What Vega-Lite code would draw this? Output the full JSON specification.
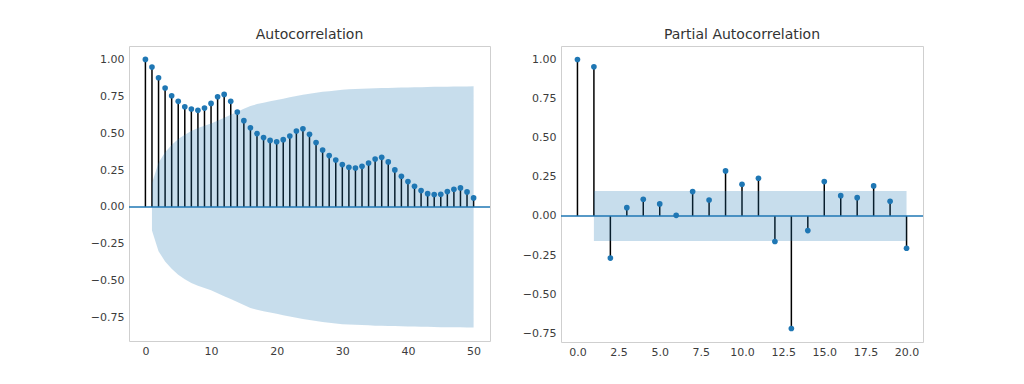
{
  "$schema": "https://vega.github.io/schema/vega-lite/v6.json",
  "background": "white",
  "padding": {"left": 89, "top": 27, "right": 10, "bottom": 5},
  "spacing": 29,
  "config": {
    "font": "DejaVu Sans",
    "view": {"stroke": "#cfcfcf", "strokeWidth": 1},
    "axis": {"grid": false, "domain": false, "ticks": false, "labelFont": "DejaVu Sans", "labelFontSize": 11, "labelColor": "#3c3c3c", "labelPadding": 5, "title": null},
    "title": {"fontSize": 14, "fontWeight": "normal", "font": "DejaVu Sans", "color": "#333333", "offset": 4}
  },
  "datasets": {
    "zero": [{"level": 0}],
    "acf": [
      {"lag": 0, "r": 1.0}, {"lag": 1, "r": 0.948}, {"lag": 2, "r": 0.876}, {"lag": 3, "r": 0.806}, {"lag": 4, "r": 0.754},
      {"lag": 5, "r": 0.716}, {"lag": 6, "r": 0.679}, {"lag": 7, "r": 0.664}, {"lag": 8, "r": 0.655}, {"lag": 9, "r": 0.67},
      {"lag": 10, "r": 0.702}, {"lag": 11, "r": 0.747}, {"lag": 12, "r": 0.763}, {"lag": 13, "r": 0.716}, {"lag": 14, "r": 0.643},
      {"lag": 15, "r": 0.585}, {"lag": 16, "r": 0.537}, {"lag": 17, "r": 0.497}, {"lag": 18, "r": 0.47}, {"lag": 19, "r": 0.451},
      {"lag": 20, "r": 0.442}, {"lag": 21, "r": 0.456}, {"lag": 22, "r": 0.481}, {"lag": 23, "r": 0.515}, {"lag": 24, "r": 0.53},
      {"lag": 25, "r": 0.492}, {"lag": 26, "r": 0.436}, {"lag": 27, "r": 0.386}, {"lag": 28, "r": 0.348}, {"lag": 29, "r": 0.318},
      {"lag": 30, "r": 0.287}, {"lag": 31, "r": 0.269}, {"lag": 32, "r": 0.264}, {"lag": 33, "r": 0.275}, {"lag": 34, "r": 0.298},
      {"lag": 35, "r": 0.325}, {"lag": 36, "r": 0.336}, {"lag": 37, "r": 0.305}, {"lag": 38, "r": 0.251}, {"lag": 39, "r": 0.208},
      {"lag": 40, "r": 0.172}, {"lag": 41, "r": 0.14}, {"lag": 42, "r": 0.111}, {"lag": 43, "r": 0.09}, {"lag": 44, "r": 0.084},
      {"lag": 45, "r": 0.086}, {"lag": 46, "r": 0.104}, {"lag": 47, "r": 0.12}, {"lag": 48, "r": 0.129}, {"lag": 49, "r": 0.102},
      {"lag": 50, "r": 0.061}
    ],
    "acfband": [
      {"lag": 1, "lo": -0.16, "hi": 0.16}, {"lag": 2, "lo": -0.3, "hi": 0.3}, {"lag": 3, "lo": -0.37, "hi": 0.37},
      {"lag": 4, "lo": -0.42, "hi": 0.42}, {"lag": 5, "lo": -0.46, "hi": 0.46}, {"lag": 6, "lo": -0.49, "hi": 0.49},
      {"lag": 7, "lo": -0.515, "hi": 0.515}, {"lag": 8, "lo": -0.535, "hi": 0.535}, {"lag": 9, "lo": -0.55, "hi": 0.55},
      {"lag": 10, "lo": -0.565, "hi": 0.565}, {"lag": 11, "lo": -0.585, "hi": 0.585}, {"lag": 12, "lo": -0.605, "hi": 0.605},
      {"lag": 13, "lo": -0.625, "hi": 0.625}, {"lag": 14, "lo": -0.645, "hi": 0.645}, {"lag": 15, "lo": -0.665, "hi": 0.665},
      {"lag": 16, "lo": -0.685, "hi": 0.685}, {"lag": 17, "lo": -0.697, "hi": 0.697}, {"lag": 18, "lo": -0.707, "hi": 0.707},
      {"lag": 19, "lo": -0.716, "hi": 0.716}, {"lag": 20, "lo": -0.725, "hi": 0.725}, {"lag": 21, "lo": -0.734, "hi": 0.734},
      {"lag": 22, "lo": -0.743, "hi": 0.743}, {"lag": 23, "lo": -0.752, "hi": 0.752}, {"lag": 24, "lo": -0.76, "hi": 0.76},
      {"lag": 25, "lo": -0.767, "hi": 0.767}, {"lag": 26, "lo": -0.774, "hi": 0.774}, {"lag": 27, "lo": -0.78, "hi": 0.78},
      {"lag": 28, "lo": -0.785, "hi": 0.785}, {"lag": 29, "lo": -0.79, "hi": 0.79}, {"lag": 30, "lo": -0.795, "hi": 0.795},
      {"lag": 31, "lo": -0.797, "hi": 0.797}, {"lag": 32, "lo": -0.799, "hi": 0.799}, {"lag": 33, "lo": -0.801, "hi": 0.801},
      {"lag": 34, "lo": -0.803, "hi": 0.803}, {"lag": 35, "lo": -0.805, "hi": 0.805}, {"lag": 36, "lo": -0.806, "hi": 0.806},
      {"lag": 37, "lo": -0.807, "hi": 0.807}, {"lag": 38, "lo": -0.808, "hi": 0.808}, {"lag": 39, "lo": -0.809, "hi": 0.809},
      {"lag": 40, "lo": -0.81, "hi": 0.81}, {"lag": 41, "lo": -0.811, "hi": 0.811}, {"lag": 42, "lo": -0.812, "hi": 0.812},
      {"lag": 43, "lo": -0.813, "hi": 0.813}, {"lag": 44, "lo": -0.814, "hi": 0.814}, {"lag": 45, "lo": -0.815, "hi": 0.815},
      {"lag": 46, "lo": -0.815, "hi": 0.815}, {"lag": 47, "lo": -0.816, "hi": 0.816}, {"lag": 48, "lo": -0.816, "hi": 0.816},
      {"lag": 49, "lo": -0.817, "hi": 0.817}, {"lag": 50, "lo": -0.818, "hi": 0.818}
    ],
    "pacf": [
      {"lag": 0, "r": 1.0}, {"lag": 1, "r": 0.953}, {"lag": 2, "r": -0.269}, {"lag": 3, "r": 0.053}, {"lag": 4, "r": 0.107},
      {"lag": 5, "r": 0.077}, {"lag": 6, "r": 0.004}, {"lag": 7, "r": 0.156}, {"lag": 8, "r": 0.102}, {"lag": 9, "r": 0.288},
      {"lag": 10, "r": 0.203}, {"lag": 11, "r": 0.241}, {"lag": 12, "r": -0.163}, {"lag": 13, "r": -0.719}, {"lag": 14, "r": -0.093},
      {"lag": 15, "r": 0.22}, {"lag": 16, "r": 0.13}, {"lag": 17, "r": 0.117}, {"lag": 18, "r": 0.192}, {"lag": 19, "r": 0.094},
      {"lag": 20, "r": -0.206}
    ],
    "pacfband": [
      {"lag": 1, "lo": -0.16, "hi": 0.16}, {"lag": 20, "lo": -0.16, "hi": 0.16}
    ]
  },
  "hconcat": [
    {
      "title": "Autocorrelation",
      "width": 361,
      "height": 295,
      "layer": [
        {
          "data": {"name": "acf"},
          "mark": {"type": "rule", "color": "black", "strokeWidth": 1.5},
          "encoding": {
            "x": {"field": "lag", "type": "quantitative", "scale": {"domain": [-2.5, 52.5], "nice": false, "zero": false}, "axis": {"values": [0, 10, 20, 30, 40, 50], "format": "d", "labelPadding": 4}},
            "y": {"field": "r", "type": "quantitative", "scale": {"domain": [-0.909, 1.091], "nice": false}, "axis": {"values": [-0.75, -0.5, -0.25, 0, 0.25, 0.5, 0.75, 1], "format": ".2f"}},
            "y2": {"datum": 0}
          }
        },
        {
          "data": {"name": "zero"},
          "mark": {"type": "rule", "color": "#1f77b4", "strokeWidth": 1.5},
          "encoding": {"y": {"field": "level", "type": "quantitative"}}
        },
        {
          "data": {"name": "acf"},
          "mark": {"type": "point", "filled": true, "opacity": 1, "color": "#1f77b4", "size": 32},
          "encoding": {
            "x": {"field": "lag", "type": "quantitative"},
            "y": {"field": "r", "type": "quantitative"}
          }
        },
        {
          "data": {"name": "acfband"},
          "mark": {"type": "area", "color": "#1f77b4", "opacity": 0.25},
          "encoding": {
            "x": {"field": "lag", "type": "quantitative"},
            "y": {"field": "lo", "type": "quantitative"},
            "y2": {"field": "hi"}
          }
        }
      ]
    },
    {
      "title": "Partial Autocorrelation",
      "width": 362,
      "height": 296,
      "layer": [
        {
          "data": {"name": "pacf"},
          "mark": {"type": "rule", "color": "black", "strokeWidth": 1.5},
          "encoding": {
            "x": {"field": "lag", "type": "quantitative", "scale": {"domain": [-1, 21], "nice": false, "zero": false}, "axis": {"values": [0, 2.5, 5, 7.5, 10, 12.5, 15, 17.5, 20], "format": ".1f", "labelPadding": 4}},
            "y": {"field": "r", "type": "quantitative", "scale": {"domain": [-0.805, 1.086], "nice": false}, "axis": {"values": [-0.75, -0.5, -0.25, 0, 0.25, 0.5, 0.75, 1], "format": ".2f"}},
            "y2": {"datum": 0}
          }
        },
        {
          "data": {"name": "zero"},
          "mark": {"type": "rule", "color": "#1f77b4", "strokeWidth": 1.5},
          "encoding": {"y": {"field": "level", "type": "quantitative"}}
        },
        {
          "data": {"name": "pacf"},
          "mark": {"type": "point", "filled": true, "opacity": 1, "color": "#1f77b4", "size": 32},
          "encoding": {
            "x": {"field": "lag", "type": "quantitative"},
            "y": {"field": "r", "type": "quantitative"}
          }
        },
        {
          "data": {"name": "pacfband"},
          "mark": {"type": "area", "color": "#1f77b4", "opacity": 0.25},
          "encoding": {
            "x": {"field": "lag", "type": "quantitative"},
            "y": {"field": "lo", "type": "quantitative"},
            "y2": {"field": "hi"}
          }
        }
      ]
    }
  ]
}
